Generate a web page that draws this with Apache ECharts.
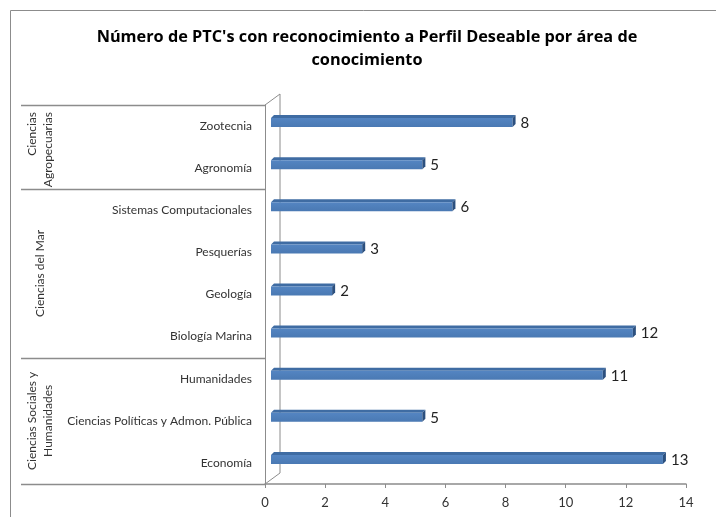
<!DOCTYPE html>
<html>
<head>
<meta charset="utf-8">
<title>PTC Perfil Deseable</title>
<script src="https://cdn.jsdelivr.net/npm/echarts@6.0.0/dist/echarts.min.js"></script>
<style>
  html, body { margin: 0; padding: 0; background: #fff; }
  #chart { width: 716px; height: 517px; }
</style>
</head>
<body>
<div id="chart"></div>
<script>
// data, top to bottom as in the picture
const categories = [
  'Zootecnia',
  'Agronomía',
  'Sistemas Computacionales',
  'Pesquerías',
  'Geología',
  'Biología Marina',
  'Humanidades',
  'Ciencias Políticas y Admon. Pública',
  'Economía'
]
const values = [8, 5, 6, 3, 2, 12, 11, 5, 13]
const groupNames = ['Ciencias\nAgropecuarias', 'Ciencias del Mar', 'Ciencias Sociales y\nHumanidades']
const groupSizes = [2, 4, 3]
const xMin = 0
const xMax = 14
const xStep = 2
const titleText = "Número de PTC's con reconocimiento a Perfil Deseable por área de\nconocimiento"

const FONT = 'Lato, "Noto Sans", sans-serif'
const GRAY = '#8c8c8c'
// 3d depth of the walls
const DX = 15
const DY = -11

const chart = echarts.init(document.getElementById('chart'))

function renderBar (params, api) {
  const c = api.value(1)
  const a = api.coord([0, c])
  const b = api.coord([api.value(0), c])
  const x0 = a[0] + 6
  const x1 = b[0] + 7
  const cy = a[1]
  const t = cy - 8
  const h = 9
  const d = 3
  return {
    type: 'group',
    children: [
      {
        type: 'polygon',
        shape: { points: [[x0, t], [x1, t], [x1 + d, t - d], [x0 + d, t - d]] },
        style: { fill: '#3f6ca3' }
      },
      {
        type: 'rect',
        shape: { x: x0, y: t, width: x1 - x0, height: h },
        style: {
          fill: new echarts.graphic.LinearGradient(0, 0, 0, 1, [
            { offset: 0, color: '#5485c2' },
            { offset: 1, color: '#4a79b3' }
          ])
        }
      },
      {
        type: 'polygon',
        shape: { points: [[x1, t], [x1 + d, t - d], [x1 + d, t + h - d], [x1, t + h]] },
        style: { fill: '#2c507f' }
      },
      {
        type: 'text',
        style: {
          text: String(api.value(0)),
          x: x1 + d + 5,
          y: cy - 3,
          verticalAlign: 'middle',
          font: '15px ' + FONT,
          fill: '#222'
        }
      }
    ]
  }
}

chart.setOption({
  animation: false,
  grid: {
    left: 265,
    right: 30,
    top: 105,
    bottom: 33
  },
  xAxis: {
    type: 'value',
    min: xMin,
    max: xMax,
    interval: xStep,
    axisLine: { show: true, lineStyle: { color: GRAY, width: 1.5 } },
    axisTick: { show: true, length: 4, lineStyle: { color: GRAY } },
    splitLine: { show: false },
    axisLabel: { color: '#333', fontSize: 13, fontFamily: FONT, margin: 12 }
  },
  yAxis: {
    type: 'category',
    inverse: true,
    data: categories,
    axisLine: { show: true, lineStyle: { color: GRAY, width: 1 } },
    axisTick: { show: false },
    axisLabel: { color: '#333', fontSize: 12, fontFamily: FONT, margin: 13, interval: 0 }
  },
  series: [
    {
      type: 'custom',
      z: 5,
      renderItem: renderBar,
      encode: { x: 0, y: 1 },
      data: values.map((v, i) => [v, i])
    }
  ]
})

// walls, group dividers and labels, placed from the axes
function drawDecor () {
  const x0 = chart.convertToPixel({ xAxisIndex: 0 }, 0)
  const c0 = chart.convertToPixel({ yAxisIndex: 0 }, 0)
  const c1 = chart.convertToPixel({ yAxisIndex: 0 }, 1)
  const bw = c1 - c0
  const top = c0 - bw / 2
  const bottom = top + bw * categories.length
  const els = [
    {
      type: 'rect',
      shape: { x: 10.5, y: 10.5, width: 900, height: 700 },
      style: { fill: null, stroke: GRAY, lineWidth: 1 }
    },
    {
      type: 'text',
      x: 367,
      y: 26,
      style: {
        text: titleText,
        font: 'bold 16.3px "Open Sans", sans-serif',
        fill: '#000',
        align: 'center',
        lineHeight: 23
      }
    },
    {
      type: 'polyline',
      shape: { points: [[x0, top], [x0 + DX, top + DY], [x0 + DX, bottom + DY], [x0, bottom]] },
      style: { stroke: GRAY, fill: null, lineWidth: 1 }
    }
  ]
  let start = 0
  const bounds = [top]
  groupSizes.forEach((n, g) => {
    const y1 = top + bw * start
    const y2 = top + bw * (start + n)
    bounds.push(y2)
    // the first group sits against its upper edge in the picture
    const first = g === 0
    els.push({
      type: 'text',
      x: 40,
      y: first ? y1 + 7 : (y1 + y2) / 2,
      rotation: Math.PI / 2,
      style: {
        text: groupNames[g],
        font: '12px ' + FONT,
        fill: '#333',
        align: first ? 'right' : 'center',
        verticalAlign: 'middle',
        lineHeight: 16
      }
    })
    start += n
  })
  bounds.forEach((y) => {
    els.push({
      type: 'line',
      shape: { x1: 21, y1: Math.round(y) + 0.5, x2: x0, y2: Math.round(y) + 0.5 },
      style: { stroke: GRAY, lineWidth: 1.5 }
    })
  })
  chart.setOption({ graphic: { elements: els } })
}

drawDecor()
</script>
</body>
</html>
